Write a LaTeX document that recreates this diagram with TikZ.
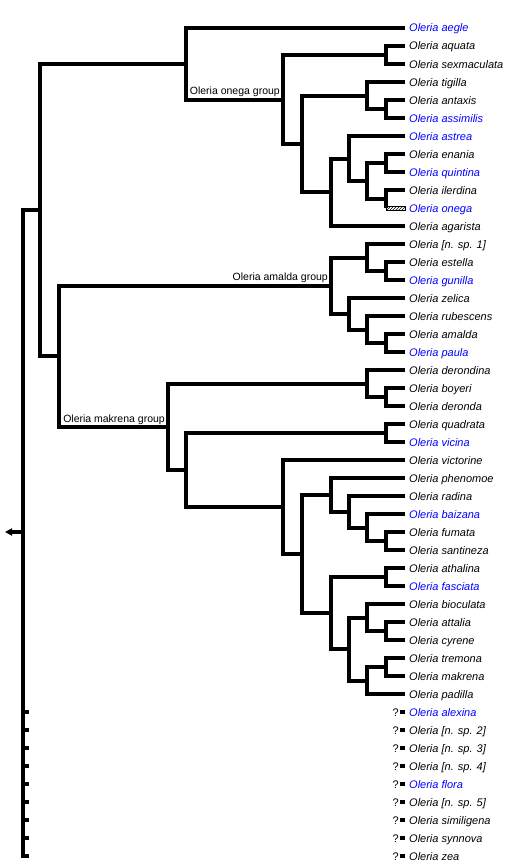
\documentclass[tikz,border=0pt]{standalone}
\usepackage{fontspec}
\setmainfont{Liberation Sans}
\usetikzlibrary{arrows.meta,patterns}
\begin{document}
\begin{tikzpicture}[x=1pt,y=-1pt]
\tikzset{br/.style = {line width=4pt, line join=miter},
  leaf/.style = {anchor=west, inner xsep=4pt, inner ysep=0pt, text height=8pt, text depth=0pt, font=\fontsize{11}{13}\selectfont\itshape},
  qmark/.style = {anchor=east, inner xsep=1pt, inner ysep=0pt, text height=8pt, text depth=0pt, font=\fontsize{11}{13}\selectfont},
  grp/.style = {anchor=south east, inner sep=0pt, xshift=-3pt, yshift=2.5pt, font=\fontsize{10.5}{12}\selectfont}}
\useasboundingbox (0,0) rectangle (507,867);
% leaves
\foreach \i/\sp/\c in {1/aegle/blue, 2/aquata/black, 3/sexmaculata/black, 4/tigilla/black,
  5/antaxis/black, 6/assimilis/blue, 7/astrea/blue, 8/enania/black, 9/quintina/blue,
  10/ilerdina/black, 11/onega/blue, 12/agarista/black, 13/{[n. sp. 1]}/black,
  14/estella/black, 15/gunilla/blue, 16/zelica/black, 17/rubescens/black,
  18/amalda/black, 19/paula/blue, 20/derondina/black, 21/boyeri/black,
  22/deronda/black, 23/quadrata/black, 24/vicina/blue, 25/victorine/black,
  26/phenomoe/black, 27/radina/black, 28/baizana/blue, 29/fumata/black,
  30/santineza/black, 31/athalina/black, 32/fasciata/blue, 33/bioculata/black,
  34/attalia/black, 35/cyrene/black, 36/tremona/black, 37/makrena/black,
  38/padilla/black, 39/alexina/blue, 40/{[n. sp. 2]}/black, 41/{[n. sp. 3]}/black,
  42/{[n. sp. 4]}/black, 43/flora/blue, 44/{[n. sp. 5]}/black, 45/similigena/black,
  46/synnova/black, 47/zea/black}
  \node[leaf,text=\c] (l\i) at (405,{10+18*\i}) {Oleria \sp};
% onega group
\coordinate (a1) at (386,55);
\coordinate (a2) at (386,109);
\coordinate (a3) at (367,95.5);
\coordinate (a4) at (386,163);
\coordinate (a5) at (386,199);
\coordinate (a6) at (367,181);
\coordinate (a7) at (349,158.5);
\coordinate (a8) at (331,192);
\coordinate (a9) at (302,144);
\coordinate (a10) at (283,99.5);
\coordinate (onega) at (186,64);
% amalda group
\coordinate (b1) at (386,271);
\coordinate (b2) at (367,257.5);
\coordinate (b3) at (386,343);
\coordinate (b4) at (367,329.5);
\coordinate (b5) at (349,314);
\coordinate (amalda) at (331,285.5);
% makrena group
\coordinate (c1) at (386,397);
\coordinate (c2) at (367,383.5);
\coordinate (c3) at (386,433);
\coordinate (c4) at (386,541);
\coordinate (c5) at (367,527.5);
\coordinate (c6) at (349,512);
\coordinate (c7) at (331,495);
\coordinate (c8) at (386,577);
\coordinate (c9) at (386,631);
\coordinate (c10) at (367,617.5);
\coordinate (c11) at (386,667);
\coordinate (c12) at (367,680.5);
\coordinate (c13) at (349,649);
\coordinate (c14) at (331,613);
\coordinate (c15) at (302,554);
\coordinate (c16) at (283,507);
\coordinate (c17) at (186,470);
\coordinate (makrena) at (168,427);
\coordinate (d1) at (59,356);
\coordinate (d2) at (40,210);
\coordinate (root) at (23,210);
\coordinate (tail) at (29,856);
\coordinate (rmid) at (23,532);
\coordinate (anc) at (5,532);
% group labels
\node[grp] (gonega) at (a10) {Oleria onega group};
\node[grp] (gamalda) at (amalda) {Oleria amalda group};
\node[grp] (gmakrena) at (makrena) {Oleria makrena group};
% branches
\draw[br] (l2.west) -| (a1) |- (l3.west);
\draw[br] (l5.west) -| (a2) |- (l6.west);
\draw[br] (l4.west) -| (a3) |- (a2);
\draw[br] (l8.west) -| (a4) |- (l9.west);
\draw[br] (l10.west) -| (a5) -- (a5 |- l11.west);
\draw[line width=0.8pt, pattern=north east lines] ([yshift=-2pt]a5 |- l11.west) rectangle ([yshift=2pt]l11.west);
\draw[br] (a4) -| (a6) |- (a5);
\draw[br] (l7.west) -| (a7) |- (a6);
\draw[br] (a7) -| (a8) |- (l12.west);
\draw[br] (a3) -| (a9) |- (a8);
\draw[br] (a1) -| (a10) |- (a9);
\draw[br] (l1.west) -| (onega) |- (a10);
\draw[br] (l14.west) -| (b1) |- (l15.west);
\draw[br] (l13.west) -| (b2) |- (b1);
\draw[br] (l18.west) -| (b3) |- (l19.west);
\draw[br] (l17.west) -| (b4) |- (b3);
\draw[br] (l16.west) -| (b5) |- (b4);
\draw[br] (b2) -| (amalda) |- (b5);
\draw[br] (l21.west) -| (c1) |- (l22.west);
\draw[br] (l20.west) -| (c2) |- (c1);
\draw[br] (l23.west) -| (c3) |- (l24.west);
\draw[br] (l29.west) -| (c4) |- (l30.west);
\draw[br] (l28.west) -| (c5) |- (c4);
\draw[br] (l27.west) -| (c6) |- (c5);
\draw[br] (l26.west) -| (c7) |- (c6);
\draw[br] (l31.west) -| (c8) |- (l32.west);
\draw[br] (l34.west) -| (c9) |- (l35.west);
\draw[br] (l33.west) -| (c10) |- (c9);
\draw[br] (l36.west) -| (c11) |- (l37.west);
\draw[br] (c11) -| (c12) |- (l38.west);
\draw[br] (c10) -| (c13) |- (c12);
\draw[br] (c8) -| (c14) |- (c13);
\draw[br] (c7) -| (c15) |- (c14);
\draw[br] (l25.west) -| (c16) |- (c15);
\draw[br] (c3) -| (c17) |- (c16);
\draw[br] (c2) -| (makrena) |- (c17);
\draw[br] (amalda) -| (d1) |- (makrena);
\draw[br] (onega) -| (d2) |- (d1);
\draw[br] (d2) -- (root) |- (tail);
\draw[br,-{Triangle[length=7pt,width=7pt]}] (rmid) -- (anc);
% unplaced species
\foreach \i in {39,...,47} {
  \node[qmark] (q\i) at (400,{10+18*\i}) {?};
  \draw[br] (q\i.east) -- (l\i.west);
}
\foreach \i in {39,...,46}
  \draw[br] (23,{10+18*\i}) -- ++(6,0);
\end{tikzpicture}
\end{document}
